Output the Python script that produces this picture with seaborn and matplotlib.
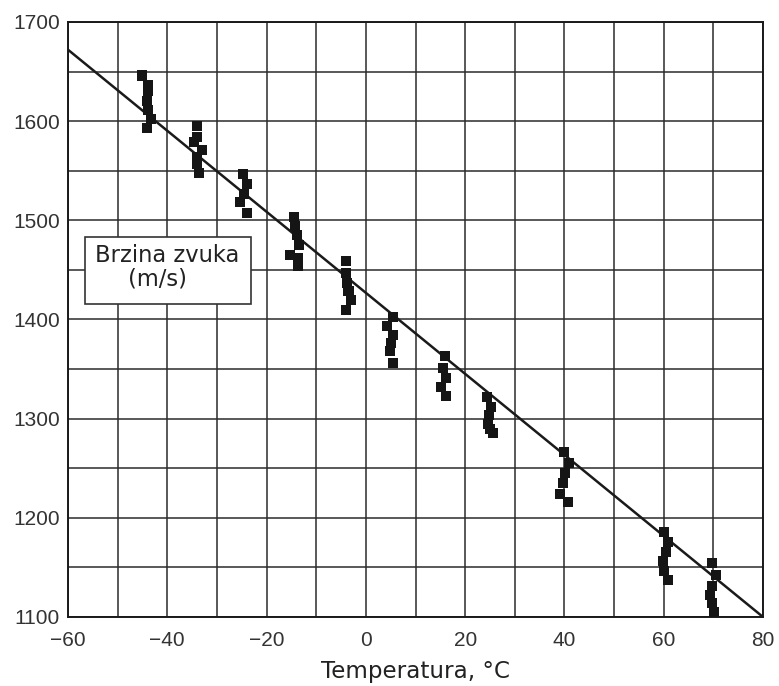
"""Brzina zvuka vs temperatura - scatter with fitted line."""

import matplotlib
matplotlib.use("Agg")
import matplotlib.pyplot as plt
import pandas as pd
import seaborn as sns

# measured points, grouped by nominal temperature
temp_c = [
    -45.0, -43.9, -43.8, -44.0, -43.9, -43.3, -44.0,
    -34.1, -34.1, -34.6, -33.1, -34.1, -34.0, -33.6,
    -24.7, -24.0, -24.5, -25.4, -24.0,
    -14.4, -14.2, -13.8, -13.4, -15.3, -13.6, -13.6,
    -4.0, -4.1, -3.9, -3.5, -3.0, -4.1,
    5.5, 4.3, 5.5, 5.0, 4.8, 5.4,
    15.9, 15.6, 16.2, 15.2, 16.2,
    24.3, 25.2, 24.9, 24.6, 25.1, 25.7,
    40.0, 41.0, 40.2, 39.8, 39.1, 40.8,
    60.1, 60.9, 60.4, 59.8, 60.1, 60.8,
    69.7, 70.5, 69.8, 69.4, 69.8, 70.1,
]
speed_ms = [
    1646, 1636, 1630, 1620, 1611, 1602, 1593,
    1595, 1584, 1579, 1571, 1564, 1557, 1548,
    1547, 1537, 1527, 1518, 1507,
    1503, 1494, 1485, 1475, 1465, 1462, 1454,
    1459, 1447, 1437, 1429, 1420, 1410,
    1402, 1393, 1384, 1376, 1368, 1356,
    1363, 1351, 1341, 1332, 1323,
    1322, 1312, 1304, 1295, 1290, 1286,
    1266, 1255, 1245, 1235, 1224, 1216,
    1186, 1176, 1166, 1156, 1146, 1137,
    1154, 1142, 1131, 1122, 1114, 1105,
]

# fitted line end points
fit_x = [-60, 80]
fit_y = [1672, 1100]

x_ticks = [-60, -40, -20, 0, 20, 40, 60, 80]
y_ticks = [1100, 1200, 1300, 1400, 1500, 1600, 1700]

sns.set_theme(style="white")
plt.rcParams["font.family"] = ["Liberation Sans", "DejaVu Sans"]
plt.rcParams["axes.unicode_minus"] = True

points = pd.DataFrame({"temp": temp_c, "speed": speed_ms})
line = pd.DataFrame({"temp": fit_x, "speed": fit_y})

fig = plt.figure(figsize=(7.79, 6.86), dpi=100)
fig.patch.set_facecolor("white")
ax = fig.add_axes([0.0873, 0.1006, 0.8922, 0.8674])

sns.lineplot(data=line, x="temp", y="speed", color="#1a1a1a", linewidth=1.8, ax=ax, zorder=3)
sns.scatterplot(data=points, x="temp", y="speed", marker="s", s=52,
                color="#151515", edgecolor="none", ax=ax, zorder=4)

ax.set_xlim(-60, 80)
ax.set_ylim(1100, 1700)
ax.set_xticks(x_ticks)
ax.set_yticks(y_ticks)
ax.set_xticks(range(-60, 81, 10), minor=True)
ax.set_yticks(range(1100, 1701, 50), minor=True)
ax.grid(which="both", color="#2b2b2b", linewidth=1.1)
ax.set_axisbelow(True)
ax.tick_params(which="both", length=0, labelsize=15, colors="#333333")
ax.tick_params(axis="y", pad=6)
ax.tick_params(axis="x", pad=10)
for sp in ax.spines.values():
    sp.set_color("#1a1a1a")
    sp.set_linewidth(1.4)

ax.set_ylabel("")
ax.set_xlabel("Temperatura, °C", fontsize=16.6, color="#222222", labelpad=7,
              family=["DejaVu Sans"])

# label box
box = plt.Rectangle((0.0245, 0.526), 0.2395, 0.113, transform=ax.transAxes,
                    facecolor="white", edgecolor="#333333", linewidth=1.2, zorder=5)
ax.add_patch(box)
ax.text(0.039, 0.607, "Brzina zvuka", transform=ax.transAxes, fontsize=16.3,
        family=["DejaVu Sans"], color="#222222", va="center", ha="left", zorder=6)
ax.text(0.086, 0.568, "(m/s)", transform=ax.transAxes, fontsize=16.3,
        family=["DejaVu Sans"], color="#222222", va="center", ha="left", zorder=6)

fig.savefig("out.png", dpi=100, facecolor="white")
